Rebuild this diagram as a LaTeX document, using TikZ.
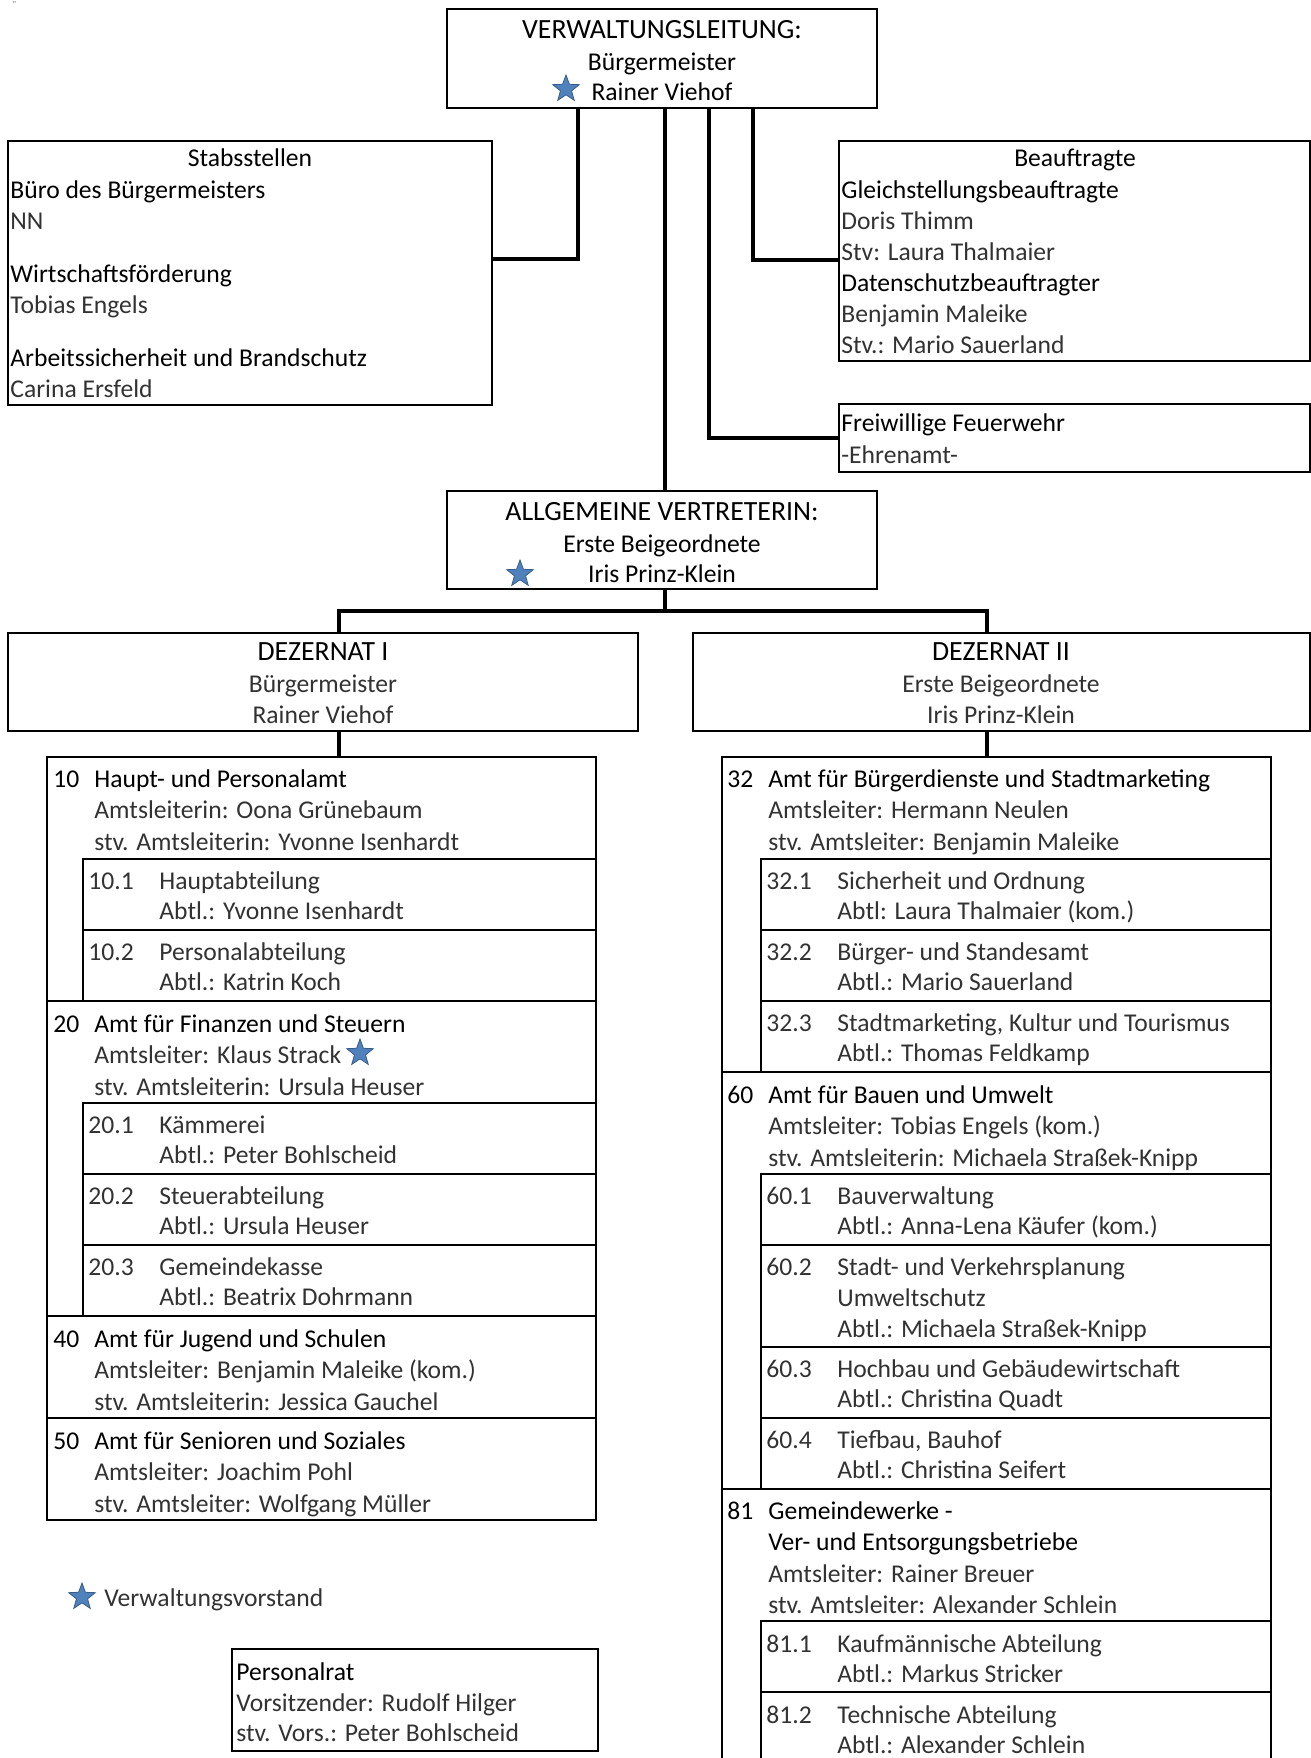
\documentclass[tikz,border=0pt]{standalone}
\usepackage{fontspec}
\setmainfont{Carlito}
\usetikzlibrary{shapes.geometric,fit}

\definecolor{starblue}{RGB}{79,129,189}
\definecolor{starline}{RGB}{56,93,138}
\definecolor{lighttext}{RGB}{50,50,50}

\tikzset{
	box/.style={draw, line width=1pt, inner sep=0pt},
	conn/.style={draw, line width=2pt},
	hd/.style={anchor=base west, inner sep=0pt},
	hdc/.style={anchor=base, inner sep=0pt},
	ttl/.style={anchor=base, inner sep=0pt, font=\fontsize{13.9}{16.7}\selectfont},
	lt/.style={anchor=base west, inner sep=0pt, text=lighttext},
	ltc/.style={anchor=base, inner sep=0pt, text=lighttext},
	vstar/.style={star, star points=5, star point ratio=2.4, minimum size=14pt,
		inner sep=0pt, fill=starblue, draw=starline, line width=0.4pt}
}

\begin{document}
\begin{tikzpicture}[x=0.5pt, y=-0.5pt, font=\fontsize{12.8}{15.4}\selectfont]
	\clip (0,0) rectangle (1311,1758);
	\node[lt, font=\tiny] (dots) at (12,8) {¨};

	% Verwaltungsleitung
	\node[box, fit={(447,9) (877,108)}] (lead) {};
	\node[ttl] (leadT) at (662,38) {VERWALTUNGSLEITUNG:};
	\node[hdc] (leadF) at (662,70) {Bürgermeister};
	\node[hdc] (leadN) at (662,100) {Rainer Viehof};
	\node[vstar] (leadS) at (566,89) {};

	% Stabsstellen
	\node[box, fit={(8,141) (492,405)}] (staff) {};
	\node[hdc] (staffT) at (250,166) {Stabsstellen};
	\node[hd] (staff1) at (10,198) {Büro des Bürgermeisters};
	\node[lt] (staff1n) at (10,229) {NN};
	\node[hd] (staff2) at (10,282) {Wirtschaftsförderung};
	\node[lt] (staff2n) at (10,313) {Tobias Engels};
	\node[hd] (staff3) at (10,366) {Arbeitssicherheit und Brandschutz};
	\node[lt] (staff3n) at (10,397) {Carina Ersfeld};

	% Beauftragte
	\node[box, fit={(839,141) (1310,361)}] (comm) {};
	\node[hdc] (commT) at (1075,166) {Beauftragte};
	\node[hd] (comm1) at (841,198) {Gleichstellungsbeauftragte};
	\node[lt] (comm1n) at (841,229) {Doris Thimm};
	\node[lt] (comm1s) at (841,260) {Stv: Laura Thalmaier};
	\node[hd] (comm2) at (841,291) {Datenschutzbeauftragter};
	\node[lt] (comm2n) at (841,322) {Benjamin Maleike};
	\node[lt] (comm2s) at (841,353) {Stv.: Mario Sauerland};

	% Feuerwehr
	\node[box, fit={(839,404) (1310,472)}] (fire) {};
	\node[hd] (fireT) at (841,431) {Freiwillige Feuerwehr};
	\node[lt] (fireN) at (841,463) {-Ehrenamt-};

	% Allgemeine Vertreterin
	\node[box, fit={(447,491) (877,589)}] (dep) {};
	\node[ttl] (depT) at (662,520) {ALLGEMEINE VERTRETERIN:};
	\node[hdc] (depF) at (662,552) {Erste Beigeordnete};
	\node[hdc] (depN) at (662,582) {Iris Prinz-Klein};
	\node[vstar] (depS) at (520,574) {};

	% Dezernate
	\node[box, fit={(8,633) (638,731)}] (dzI) {};
	\node[ttl] (dzIT) at (323,660) {DEZERNAT I};
	\node[ltc] (dzIF) at (323,692) {Bürgermeister};
	\node[ltc] (dzIN) at (323,723) {Rainer Viehof};
	\node[box, fit={(693,633) (1310,731)}] (dzII) {};
	\node[ttl] (dzIIT) at (1001,660) {DEZERNAT II};
	\node[ltc] (dzIIF) at (1001,692) {Erste Beigeordnete};
	\node[ltc] (dzIIN) at (1001,723) {Iris Prinz-Klein};

	% Dezernat I: Aemter
	\node[box, fit={(47,757) (596,1001)}] (a10) {};
	\node[hd] (a10no) at (53,787) {10};
	\node[hd] (a10t) at (94,787) {Haupt- und Personalamt};
	\node[lt] (a10l) at (94,818) {Amtsleiterin: Oona Grünebaum};
	\node[lt] (a10s) at (94,850) {stv. Amtsleiterin: Yvonne Isenhardt};
	\node[box, fit={(83,859) (596,930)}] (a101) {};
	\node[lt] (a101no) at (88,889) {10.1};
	\node[lt] (a101t) at (159,889) {Hauptabteilung};
	\node[lt] (a101l) at (159,919) {Abtl.: Yvonne Isenhardt};
	\node[box, fit={(83,930) (596,1001)}] (a102) {};
	\node[lt] (a102no) at (88,960) {10.2};
	\node[lt] (a102t) at (159,960) {Personalabteilung};
	\node[lt] (a102l) at (159,990) {Abtl.: Katrin Koch};

	\node[box, fit={(47,1001) (596,1316)}] (a20) {};
	\node[hd] (a20no) at (53,1032) {20};
	\node[hd] (a20t) at (94,1032) {Amt für Finanzen und Steuern};
	\node[lt] (a20l) at (94,1063) {Amtsleiter: Klaus Strack};
	\node[vstar] (a20S) at (360,1053) {};
	\node[lt] (a20s) at (94,1095) {stv. Amtsleiterin: Ursula Heuser};
	\node[box, fit={(83,1103) (596,1174)}] (a201) {};
	\node[lt] (a201no) at (88,1133) {20.1};
	\node[lt] (a201t) at (159,1133) {Kämmerei};
	\node[lt] (a201l) at (159,1163) {Abtl.: Peter Bohlscheid};
	\node[box, fit={(83,1174) (596,1245)}] (a202) {};
	\node[lt] (a202no) at (88,1204) {20.2};
	\node[lt] (a202t) at (159,1204) {Steuerabteilung};
	\node[lt] (a202l) at (159,1234) {Abtl.: Ursula Heuser};
	\node[box, fit={(83,1245) (596,1316)}] (a203) {};
	\node[lt] (a203no) at (88,1275) {20.3};
	\node[lt] (a203t) at (159,1275) {Gemeindekasse};
	\node[lt] (a203l) at (159,1305) {Abtl.: Beatrix Dohrmann};

	\node[box, fit={(47,1316) (596,1418)}] (a40) {};
	\node[hd] (a40no) at (53,1347) {40};
	\node[hd] (a40t) at (94,1347) {Amt für Jugend und Schulen};
	\node[lt] (a40l) at (94,1378) {Amtsleiter: Benjamin Maleike (kom.)};
	\node[lt] (a40s) at (94,1410) {stv. Amtsleiterin: Jessica Gauchel};

	\node[box, fit={(47,1418) (596,1520)}] (a50) {};
	\node[hd] (a50no) at (53,1449) {50};
	\node[hd] (a50t) at (94,1449) {Amt für Senioren und Soziales};
	\node[lt] (a50l) at (94,1480) {Amtsleiter: Joachim Pohl};
	\node[lt] (a50s) at (94,1512) {stv. Amtsleiter: Wolfgang Müller};

	% Dezernat II: Aemter
	\node[box, fit={(722,757) (1271,1072)}] (a32) {};
	\node[hd] (a32no) at (727,787) {32};
	\node[hd] (a32t) at (768,787) {Amt für Bürgerdienste und Stadtmarketing};
	\node[lt] (a32l) at (768,818) {Amtsleiter: Hermann Neulen};
	\node[lt] (a32s) at (768,850) {stv. Amtsleiter: Benjamin Maleike};
	\node[box, fit={(761,859) (1271,930)}] (a321) {};
	\node[lt] (a321no) at (766,889) {32.1};
	\node[lt] (a321t) at (837,889) {Sicherheit und Ordnung};
	\node[lt] (a321l) at (837,919) {Abtl: Laura Thalmaier (kom.)};
	\node[box, fit={(761,930) (1271,1001)}] (a322) {};
	\node[lt] (a322no) at (766,960) {32.2};
	\node[lt] (a322t) at (837,960) {Bürger- und Standesamt};
	\node[lt] (a322l) at (837,990) {Abtl.: Mario Sauerland};
	\node[box, fit={(761,1001) (1271,1072)}] (a323) {};
	\node[lt] (a323no) at (766,1031) {32.3};
	\node[lt] (a323t) at (837,1031) {Stadtmarketing, Kultur und Tourismus};
	\node[lt] (a323l) at (837,1061) {Abtl.: Thomas Feldkamp};

	\node[box, fit={(722,1072) (1271,1489)}] (a60) {};
	\node[hd] (a60no) at (727,1103) {60};
	\node[hd] (a60t) at (768,1103) {Amt für Bauen und Umwelt};
	\node[lt] (a60l) at (768,1134) {Amtsleiter: Tobias Engels (kom.)};
	\node[lt] (a60s) at (768,1166) {stv. Amtsleiterin: Michaela Straßek-Knipp};
	\node[box, fit={(761,1174) (1271,1245)}] (a601) {};
	\node[lt] (a601no) at (766,1204) {60.1};
	\node[lt] (a601t) at (837,1204) {Bauverwaltung};
	\node[lt] (a601l) at (837,1234) {Abtl.: Anna-Lena Käufer (kom.)};
	\node[box, fit={(761,1245) (1271,1347)}] (a602) {};
	\node[lt] (a602no) at (766,1275) {60.2};
	\node[lt] (a602t) at (837,1275) {Stadt- und Verkehrsplanung};
	\node[lt] (a602u) at (837,1306) {Umweltschutz};
	\node[lt] (a602l) at (837,1337) {Abtl.: Michaela Straßek-Knipp};
	\node[box, fit={(761,1347) (1271,1418)}] (a603) {};
	\node[lt] (a603no) at (766,1377) {60.3};
	\node[lt] (a603t) at (837,1377) {Hochbau und Gebäudewirtschaft};
	\node[lt] (a603l) at (837,1407) {Abtl.: Christina Quadt};
	\node[box, fit={(761,1418) (1271,1489)}] (a604) {};
	\node[lt] (a604no) at (766,1448) {60.4};
	\node[lt] (a604t) at (837,1448) {Tiefbau, Bauhof};
	\node[lt] (a604l) at (837,1478) {Abtl.: Christina Seifert};

	\node[box, fit={(722,1489) (1271,1800)}] (a81) {};
	\node[hd] (a81no) at (727,1519) {81};
	\node[hd] (a81t) at (768,1519) {Gemeindewerke -};
	\node[hd] (a81u) at (768,1550) {Ver- und Entsorgungsbetriebe};
	\node[lt] (a81l) at (768,1582) {Amtsleiter: Rainer Breuer};
	\node[lt] (a81s) at (768,1613) {stv. Amtsleiter: Alexander Schlein};
	\node[box, fit={(761,1621) (1271,1692)}] (a811) {};
	\node[lt] (a811no) at (766,1652) {81.1};
	\node[lt] (a811t) at (837,1652) {Kaufmännische Abteilung};
	\node[lt] (a811l) at (837,1682) {Abtl.: Markus Stricker};
	\node[box, fit={(761,1692) (1271,1800)}] (a812) {};
	\node[lt] (a812no) at (766,1723) {81.2};
	\node[lt] (a812t) at (837,1723) {Technische Abteilung};
	\node[lt] (a812l) at (837,1753) {Abtl.: Alexander Schlein};

	% Legende und Personalrat
	\node[vstar] (legS) at (82,1597) {};
	\node[lt] (legT) at (104,1606) {Verwaltungsvorstand};
	\node[box, fit={(232,1649) (598,1751)}] (pr) {};
	\node[hd] (prT) at (236,1680) {Personalrat};
	\node[lt] (prV) at (236,1711) {Vorsitzender: Rudolf Hilger};
	\node[lt] (prS) at (236,1741) {stv. Vors.: Peter Bohlscheid};

	% Verbindungen
	\coordinate (jS) at (578,259);
	\coordinate (jF) at (709,438);
	\coordinate (jB) at (753,260);
	\coordinate (jD) at (665,611);
	\coordinate (jL) at (339,611);
	\coordinate (jR) at (987,611);
	\path [conn] (lead.south -| jS) |- (staff.east |- jS);
	\path [conn] (lead.south -| jF) |- (fire.west |- jF);
	\path [conn] (lead.south -| jB) |- (comm.west |- jB);
	\path [conn] (lead.south -| jD) -- (dep.north -| jD);
	\path [conn] (dep.south -| jD) -- (jD);
	\path [conn] (dzI.north -| jL) -- (jL) -- (jR) -- (dzII.north -| jR);
	\path [conn] (dzI.south -| jL) -- (a10.north -| jL);
	\path [conn] (dzII.south -| jR) -- (a32.north -| jR);
\end{tikzpicture}
\end{document}
